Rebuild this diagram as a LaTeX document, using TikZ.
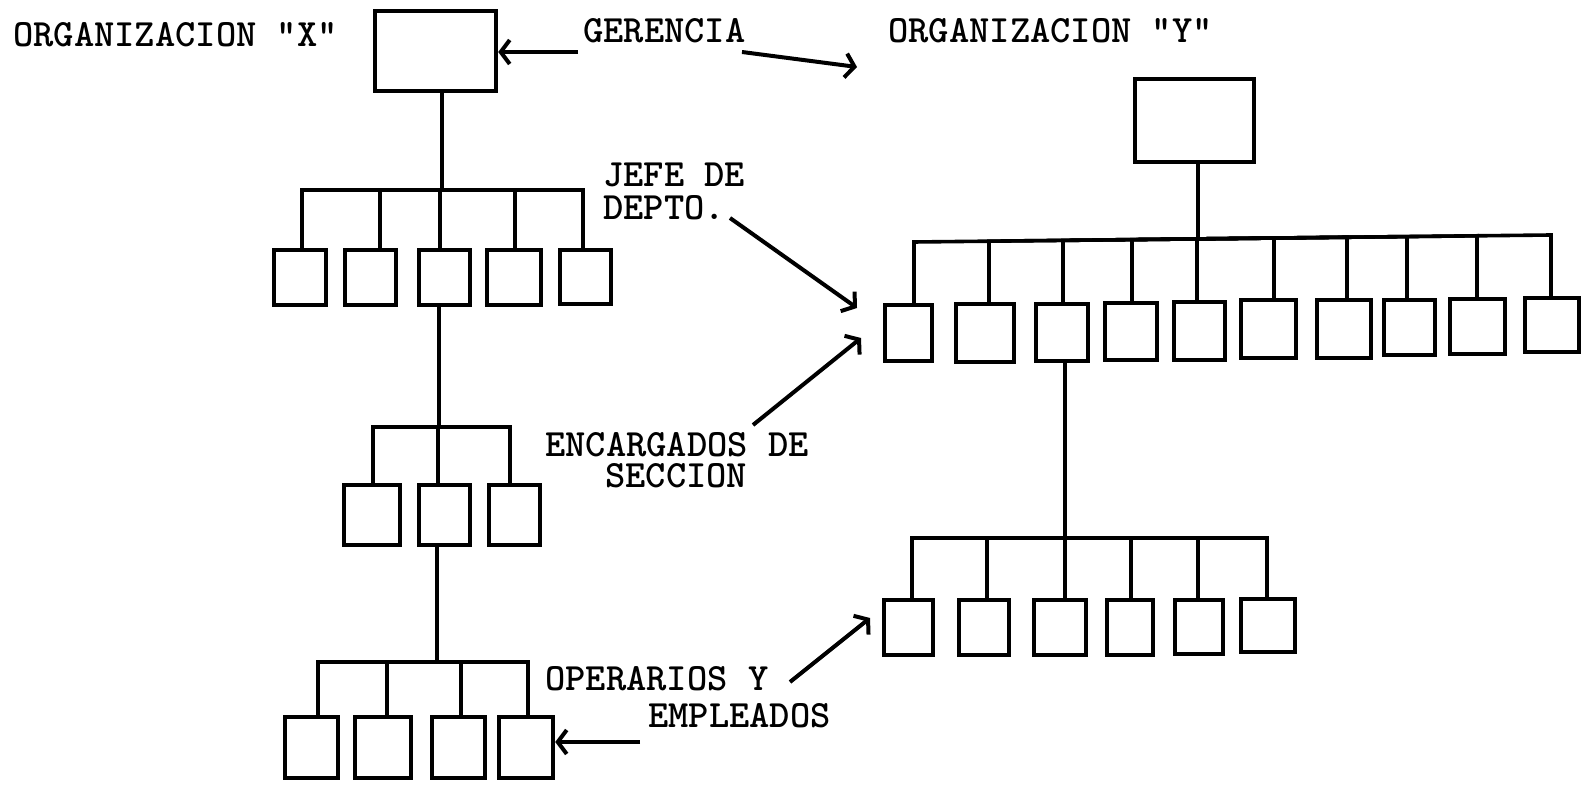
\documentclass[tikz,border=0pt]{standalone}
\usetikzlibrary{arrows.meta,calc}

% box given by its outer corners (x1,y1) (x2,y2), in pixel units
\newcommand\orgbox[5]{%
  \node[bx, minimum width={(#4-#2-4)*0.5pt}, minimum height={(#5-#3-4)*0.5pt}]
    (#1) at ({(#2+#4)/2},{(#3+#5)/2}) {};}

\tikzset{
  bx/.style={draw, rectangle, line width=2.2pt, inner sep=0pt},
  ln/.style={line width=1.8pt},
  arr/.style={line width=2pt, -{Straight Barb[length=4.5pt,width=12pt]}},
  lbl/.style={anchor=base west, inner sep=0pt,
              font=\fontsize{19.3pt}{23pt}\selectfont\ttfamily\bfseries},
}

\begin{document}
\begin{tikzpicture}[x=0.5pt, y=-0.5pt]
\fill[white] (0,0) rectangle (1584,785);
\useasboundingbox (0,0) rectangle (1584,785);

% ---------------- Organizacion X ----------------
\orgbox{xtop}{373}{9}{498}{93}
\orgbox{xa1}{272}{248}{328}{307}
\orgbox{xa2}{343}{248}{398}{307}
\orgbox{xa3}{417}{248}{472}{307}
\orgbox{xa4}{485}{248}{543}{307}
\orgbox{xa5}{558}{248}{613}{306}
\orgbox{xb1}{342}{483}{402}{547}
\orgbox{xb2}{417}{483}{472}{547}
\orgbox{xb3}{487}{483}{542}{547}
\orgbox{xc1}{283}{715}{340}{780}
\orgbox{xc2}{353}{715}{413}{780}
\orgbox{xc3}{430}{715}{487}{780}
\orgbox{xc4}{497}{715}{555}{780}

\foreach \c/\d in {xa1/302,xa2/380,xa3/440,xa4/515,xa5/583}
  \draw[ln] (xtop.south -| 442,0) |- (\d,190) -- (\c.north -| \d,0);
\foreach \c/\d in {xb1/373,xb2/438,xb3/510}
  \draw[ln] (xa3.south -| 439,0) |- (\d,427) -- (\c.north -| \d,0);
\foreach \c/\d in {xc1/318,xc2/387,xc3/461,xc4/528}
  \draw[ln] (xb2.south -| 437,0) |- (\d,662) -- (\c.north -| \d,0);

% ---------------- Organizacion Y ----------------
\orgbox{ytop}{1133}{77}{1256}{164}
\orgbox{ya1}{883}{303}{934}{363}
\orgbox{ya2}{954}{302}{1016}{364}
\orgbox{ya3}{1034}{302}{1090}{363}
\orgbox{ya4}{1103}{301}{1159}{362}
\orgbox{ya5}{1172}{300}{1227}{362}
\orgbox{ya6}{1239}{298}{1298}{360}
\orgbox{ya7}{1315}{298}{1373}{360}
\orgbox{ya8}{1382}{298}{1437}{357}
\orgbox{ya9}{1448}{297}{1507}{356}
\orgbox{ya10}{1523}{296}{1581}{354}

\foreach \c/\d/\b in {ya1/914/242,ya2/989/241.2,ya3/1063/240.4,ya4/1132/239.6,
    ya5/1197/238.9,ya6/1274/238,ya7/1347/237.2,ya8/1407/236.6,ya9/1477/235.8,
    ya10/1551/235}
  \draw[ln] (ytop.south -| 1198,0) -- (1198,238.9) -- (\d,\b) -- (\c.north -| \d,0);

\orgbox{yb1}{882}{598}{935}{657}
\orgbox{yb2}{957}{598}{1011}{657}
\orgbox{yb3}{1032}{598}{1088}{657}
\orgbox{yb4}{1105}{598}{1155}{657}
\orgbox{yb5}{1173}{598}{1225}{656}
\orgbox{yb6}{1239}{597}{1297}{654}

\foreach \c/\d in {yb1/912,yb2/987,yb3/1065,yb4/1131,yb5/1198,yb6/1267}
  \draw[ln] (ya3.south -| 1065,0) |- (\d,538) -- (\c.north -| \d,0);

% ---------------- labels ----------------
\node[lbl] (orgx) at (13,47) {ORGANIZACION "X"};
\node[lbl] (ger)  at (583,43) {GERENCIA};
\node[lbl] (orgy) at (888,43) {ORGANIZACION "Y"};
\node[lbl] (jefe1) at (603,187) {JEFE DE};
\node[lbl] (jefe2) at (603,220) {DEPTO.};
\node[lbl] (enc1) at (545,457) {ENCARGADOS DE};
\node[lbl] (enc2) at (605,488) {SECCION};
\node[lbl] (ope1) at (545,690) {OPERARIOS Y};
\node[lbl] (ope2) at (648,727) {EMPLEADOS};

% ---------------- arrows ----------------
\coordinate (g1) at (578,52);
\draw[arr] (g1) -- (g1 -| xtop.east);
\coordinate (g2s) at (742,52);
\coordinate (g2e) at (857,67);
\draw[arr] (g2s) -- (g2e);
\coordinate (j1) at (730,218);
\coordinate (j2) at (857,308);
\draw[arr] (j1) -- (j2);
\coordinate (e1) at (753,425);
\coordinate (e2) at (861,338);
\draw[arr] (e1) -- (e2);
\coordinate (o1) at (790,682);
\coordinate (o2) at (870,618);
\draw[arr] (o1) -- (o2);
\coordinate (w1) at (640,742);
\draw[arr] (w1) -- (w1 -| xc4.east);
\end{tikzpicture}
\end{document}
